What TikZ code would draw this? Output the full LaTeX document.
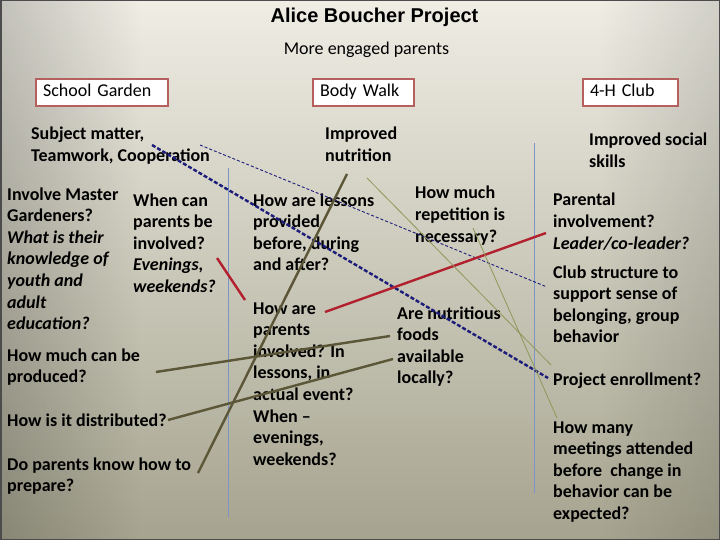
\documentclass[tikz,border=0pt]{standalone}
\usepackage{fontspec}
\setmainfont{Carlito}
\newfontfamily\titlefont{Liberation Sans}
\usetikzlibrary{fadings}

\definecolor{boxred}{HTML}{B5605E}
\definecolor{navyline}{HTML}{1C1C7A}
\definecolor{redline}{HTML}{B2212E}
\definecolor{oliveline}{HTML}{5B5638}
\definecolor{greenline}{HTML}{8E9858}
\definecolor{divider}{HTML}{7D95C4}
\definecolor{slidetop}{HTML}{EFEDE4}
\definecolor{slidebot}{HTML}{A6A48F}

% multi-line nodes sit on the baseline of their last line
\tikzset{
  txt/.style={anchor=base west, inner sep=0pt, align=left,
    font=\fontsize{18}{21.6}\selectfont\bfseries},
  boxed/.style={draw=boxred, line width=2pt, fill=white, inner xsep=7pt,
    minimum height=27pt, align=left, text height=12pt, text depth=4pt,
    font=\fontsize{18}{21.6}\selectfont},
  link/.style={line width=2.4pt},
  thinlink/.style={line width=0.8pt}
}

\begin{document}
\begin{tikzpicture}[x=1pt, y=-1pt]
        % slide background
        \useasboundingbox (0,0) rectangle (720,540);
        \shade[top color=slidetop, bottom color=slidebot] (0,0) rectangle (720,540);
        \fill[black, opacity=0.18, path fading=east] (0,0) rectangle (140,540);
        \fill[black, opacity=0.12, path fading=west] (600,0) rectangle (720,540);
        \draw[line width=1.5pt, black!70] (0.75,0.75) rectangle (719.25,539.25);

        % heading
        \node[anchor=base, inner sep=0pt, font=\titlefont\bfseries\fontsize{20}{24}\selectfont]
          (title) at (374.5,23) {Alice Boucher Project};
        \node[anchor=base, inner sep=0pt, font=\fontsize{18}{21.6}\selectfont]
          (engaged) at (366.5,55) {More engaged parents};

        \node[boxed, text width=118pt] (gardenBox) at (102,92.5) {School Garden};
        \node[boxed, text width=87pt] (walkBox) at (363.5,92.5) {Body Walk};
        \node[boxed, text width=81pt] (clubBox) at (630.5,92.5) {4-H Club};

        % column dividers
        \draw[divider] (228,168) -- (228,517);
        \draw[divider] (534,143) -- (534,493);

        % school garden
        \node[txt] (subject) at (31,161.6) {Subject matter,\\Teamwork, Cooperation};
        \node[txt] (master) at (7,329.6) {Involve Master\\Gardeners?\\\textit{What is their}\\\textit{knowledge of}\\\textit{youth and}\\\textit{adult}\\\textit{education?}};
        \node[txt] (whenCan) at (133,292.4) {When can\\parents be\\involved?\\\textit{Evenings,}\\\textit{weekends?}};
        \node[txt] (produced) at (7,382.6) {How much can be\\produced?};
        \node[txt] (distributed) at (7,426) {How is it distributed?};
        \node[txt] (prepare) at (7,491.6) {Do parents know how to\\prepare?};

        % body walk
        \node[txt] (nutrition) at (325,161.6) {Improved\\nutrition};
        \node[txt] (lessons) at (253,270.8) {How are lessons\\provided\\before, during\\and after?};
        \node[txt] (parentsInv) at (253,465.2) {How are\\parents\\involved? In\\lessons, in\\actual event?\\When --\\evenings,\\weekends?};
        \node[txt] (repetition) at (415,242.2) {How much\\repetition is\\necessary?};
        \node[txt] (foods) at (397,383.8) {Are nutritious\\foods\\available\\locally?};

        % 4-H club
        \node[txt] (social) at (589,167.6) {Improved social\\skills};
        \node[txt] (parental) at (553,249.2) {Parental\\involvement?\\\textit{Leader/co-leader?}};
        \node[txt] (structure) at (553,342.8) {Club structure to\\support sense of\\belonging, group\\behavior};
        \node[txt] (enrollment) at (553,385) {Project enrollment?};
        \node[txt] (meetings) at (553,519.4) {How many\\meetings attended\\before~ change in\\behavior can be\\expected?};

        % line ends
        \coordinate (subjA) at (152,145);
        \coordinate (subjB) at (200,145);
        \coordinate (enrollA) at (548,378);
        \coordinate (structA) at (547,287);
        \coordinate (parInvA) at (325,312);
        \coordinate (parentalA) at (546,233);
        \coordinate (whenA) at (217,258);
        \coordinate (parInvB) at (245,300);
        \coordinate (prepA) at (198,473);
        \coordinate (nutriA) at (347,174);
        \coordinate (nutriB) at (367,178);
        \coordinate (prodA) at (156,372);
        \coordinate (foodsA) at (390,336);
        \coordinate (distA) at (168,420);
        \coordinate (foodsB) at (393,359);
        \coordinate (repA) at (473,228);
        \coordinate (meetA) at (557,418);
        \coordinate (enrollB) at (551,365);

        % connections
        \draw[navyline, link, dash pattern=on 4pt off 2pt] (subjA) -- (enrollA);
        \draw[navyline, line width=0.9pt, dash pattern=on 3pt off 2pt] (subjB) -- (structA);
        \draw[redline, link] (parInvA) -- (parentalA);
        \draw[redline, link] (whenA) -- (parInvB);
        \draw[oliveline, link] (prepA) -- (nutriA);
        \draw[oliveline, link] (prodA) -- (foodsA);
        \draw[oliveline, link] (distA) -- (foodsB);
        \draw[greenline, thinlink] (nutriB) -- (enrollB);
        \draw[greenline, thinlink] (repA) -- (meetA);
      \end{tikzpicture}
\end{document}
